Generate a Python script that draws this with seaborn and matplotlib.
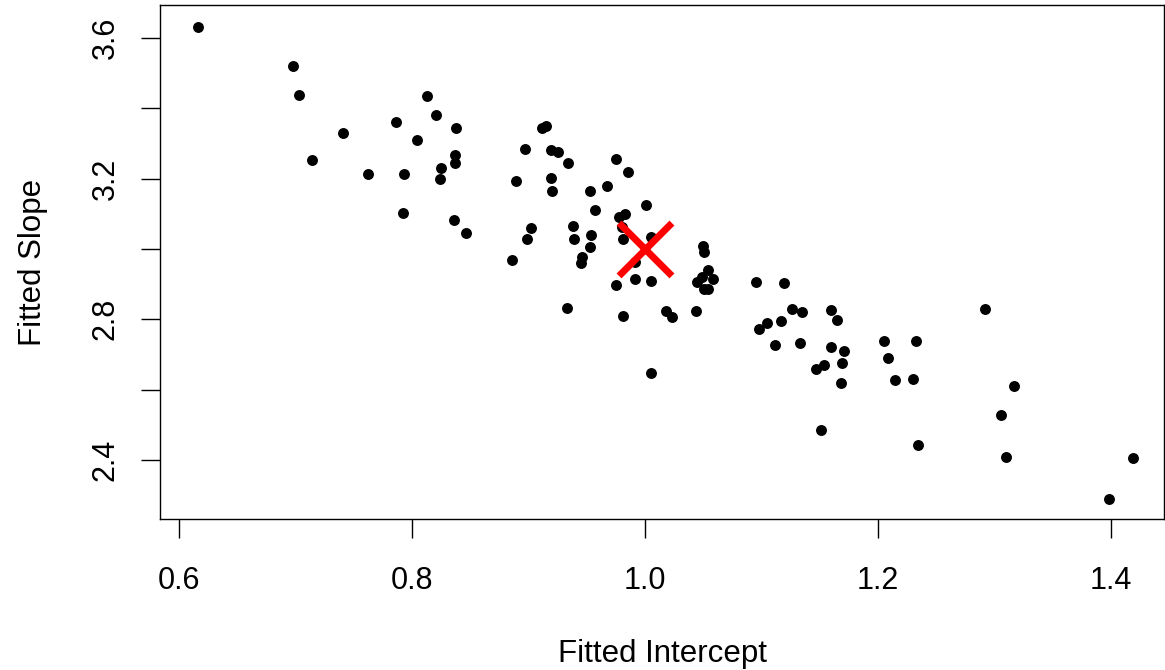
import matplotlib
matplotlib.use("Agg")
import matplotlib.pyplot as plt
from matplotlib.markers import MarkerStyle
import seaborn as sns
import pandas as pd

# Fitted intercepts (x) and slopes (y)
intercept = [
    0.616, 0.698, 0.703, 0.813, 0.821, 0.786, 0.838, 0.741, 0.804, 0.837,
    0.837, 0.825, 0.714, 0.762, 0.793, 0.824, 0.792, 0.836, 0.846,
    0.912, 0.915, 0.897, 0.919, 0.925, 0.934, 0.975, 0.985, 0.889, 0.919,
    0.920, 0.953, 0.967, 0.957, 1.001, 0.983, 0.978, 0.980, 0.902, 0.899,
    0.938, 0.939, 0.954, 0.953, 0.981, 1.005, 0.886, 0.946, 0.945, 0.991,
    1.050, 1.051, 1.054, 0.991, 1.005, 0.975, 0.933, 0.981, 1.018, 1.023,
    1.044, 1.005,
    1.045, 1.058, 1.051, 1.054, 1.049,
    1.095, 1.119, 1.126, 1.135, 1.105, 1.098, 1.117, 1.112, 1.133, 1.160,
    1.165, 1.160, 1.171, 1.169, 1.147, 1.154, 1.168, 1.205, 1.233, 1.209,
    1.215, 1.230, 1.151,
    1.292, 1.317, 1.306, 1.234, 1.310, 1.419, 1.398,
]
slope = [
    3.631, 3.520, 3.437, 3.435, 3.380, 3.360, 3.344, 3.329, 3.309, 3.266,
    3.245, 3.231, 3.253, 3.213, 3.214, 3.200, 3.103, 3.081, 3.044,
    3.343, 3.350, 3.284, 3.281, 3.276, 3.245, 3.255, 3.218, 3.194, 3.202,
    3.164, 3.165, 3.180, 3.111, 3.125, 3.098, 3.091, 3.063, 3.058, 3.028,
    3.064, 3.028, 3.039, 3.006, 3.027, 3.035, 2.968, 2.978, 2.959, 2.964,
    3.009, 2.990, 2.940, 2.914, 2.908, 2.897, 2.833, 2.809, 2.824, 2.807,
    2.824, 2.647,
    2.905, 2.914, 2.885, 2.885, 2.921,
    2.907, 2.902, 2.830, 2.820, 2.790, 2.773, 2.796, 2.726, 2.734, 2.826,
    2.798, 2.720, 2.711, 2.677, 2.658, 2.669, 2.620, 2.738, 2.739, 2.690,
    2.628, 2.630, 2.486,
    2.829, 2.610, 2.528, 2.442, 2.410, 2.407, 2.289,
]
true_intercept = [1.0]
true_slope = [3.0]

x_ticks = [0.6, 0.8, 1.0, 1.2, 1.4]
x_tick_labels = ["0.6", "0.8", "1.0", "1.2", "1.4"]
y_ticks = [2.4, 2.6, 2.8, 3.0, 3.2, 3.4, 3.6]
y_tick_labels = ["2.4", "", "2.8", "", "3.2", "", "3.6"]

df = pd.DataFrame({"Fitted Intercept": intercept, "Fitted Slope": slope})
truth = pd.DataFrame({"Fitted Intercept": true_intercept, "Fitted Slope": true_slope})

sns.set_theme(style="ticks")
plt.rcParams["font.family"] = ["Liberation Sans", "DejaVu Sans"]

fig = plt.figure(figsize=(11.65, 6.7), dpi=100)
ax = fig.add_axes([160 / 1165, 1 - 519 / 670, (1164 - 160) / 1165, (519 - 5) / 670])

sns.scatterplot(data=df, x="Fitted Intercept", y="Fitted Slope", ax=ax,
                color="black", s=62, linewidth=0, zorder=2)
sns.scatterplot(data=truth, x="Fitted Intercept", y="Fitted Slope", ax=ax,
                marker=MarkerStyle("x", capstyle="round"), color="#FF0000",
                s=1450, linewidth=5.0, zorder=3)

ax.set_xlim(0.5837, 1.4455)
ax.set_ylim(2.2327, 3.6929)
ax.set_xticks(x_ticks)
ax.set_xticklabels(x_tick_labels)
ax.set_yticks(y_ticks)
ax.set_yticklabels(y_tick_labels, rotation=90, va="center")

for sp in ax.spines.values():
    sp.set_visible(True)
    sp.set_linewidth(1.0)
    sp.set_color("black")

ax.tick_params(axis="both", length=13.7, width=1.0, color="black",
               labelsize=22, labelcolor="black", direction="out")
ax.tick_params(axis="x", pad=20)
ax.tick_params(axis="y", pad=14.5)

ax.set_xlabel("Fitted Intercept", fontsize=22.5, color="black", labelpad=31)
ax.set_ylabel("Fitted Slope", fontsize=22.5, color="black", labelpad=31)
ax.grid(False)

fig.savefig("out.png", dpi=100, facecolor="white")
